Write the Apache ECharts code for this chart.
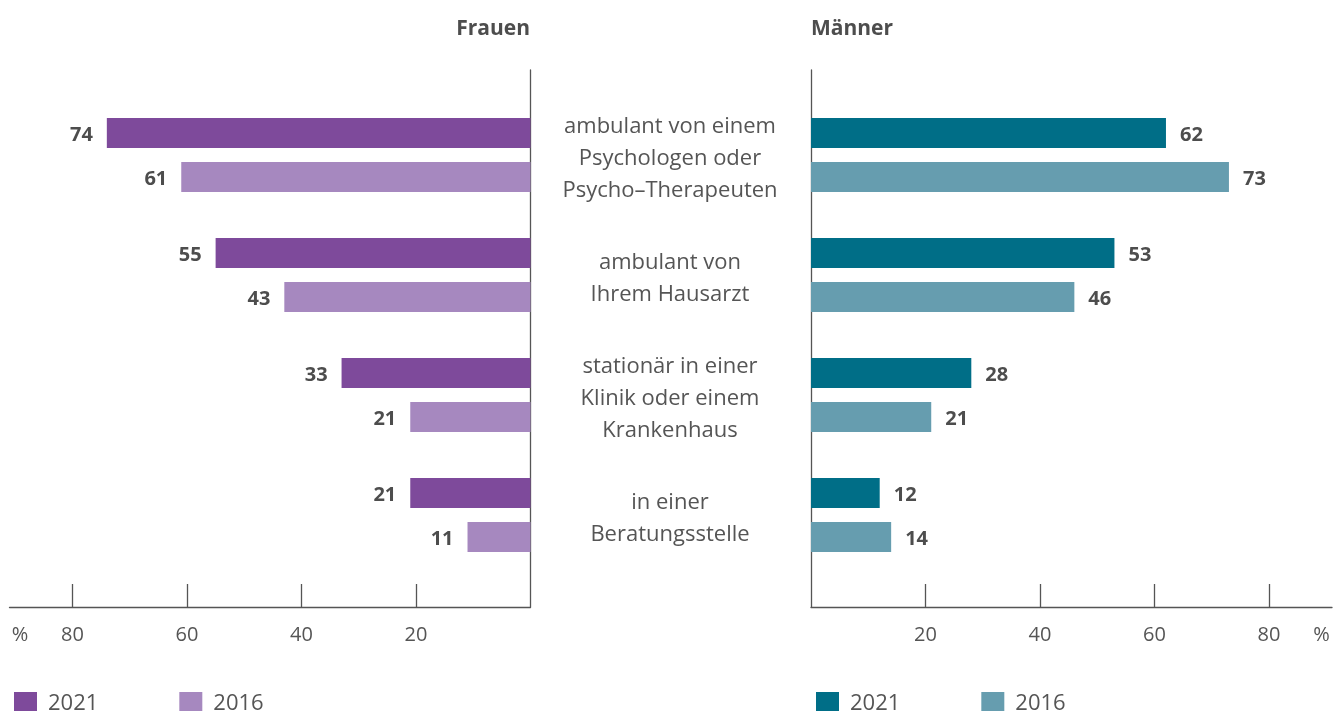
<!DOCTYPE html>
<html>
<head>
<meta charset="utf-8">
<script src="https://cdn.jsdelivr.net/npm/echarts@6/dist/echarts.min.js"></script>
<style>
  html, body { margin: 0; padding: 0; background: #fff; }
  #chart { width: 1336px; height: 711px; }
</style>
</head>
<body>
<div id="chart"></div>
<script>
// Where people sought help, in percent, by gender and survey year
const categories = [
  'ambulant von einem\nPsychologen oder\nPsycho–Therapeuten',
  'ambulant von\nIhrem Hausarzt',
  'stationär in einer\nKlinik oder einem\nKrankenhaus',
  'in einer\nBeratungsstelle'
];
const frauen2021 = [74, 55, 33, 21];
const frauen2016 = [61, 43, 21, 11];
const maenner2021 = [62, 53, 28, 12];
const maenner2016 = [73, 46, 21, 14];
const tickValues = [20, 40, 60, 80];

const FONT = 'Open Sans';
const TEXT = '#4d4d4d';
const AXIS = '#555555';
const AXIS_MAX = 91;

const chart = echarts.init(document.getElementById('chart'), null, { renderer: 'canvas' });

const valueLabel = (pos) => ({
  show: true,
  position: pos,
  distance: 14,
  offset: [0, 2],
  color: TEXT,
  fontFamily: FONT,
  fontWeight: 'bold',
  fontSize: 20
});

const barSeries = (name, data, color, xi, pos) => ({
  type: 'bar',
  name: name,
  xAxisIndex: xi,
  yAxisIndex: xi,
  data: data,
  barWidth: 30,
  barGap: '47%',
  itemStyle: { color: color },
  label: valueLabel(pos),
  silent: true
});

// frame axes: horizontal value axis with ticks + vertical baseline
const frameX = (gi, inverse) => ({
  type: 'value',
  gridIndex: gi,
  min: 0,
  max: AXIS_MAX,
  inverse: inverse,
  splitLine: { show: false },
  axisLine: { show: true, lineStyle: { color: AXIS, width: 1.3 } },
  axisTick: { show: true, inside: true, length: 23, customValues: tickValues, lineStyle: { color: AXIS, width: 1.3 } },
  axisLabel: { show: true, customValues: tickValues, margin: 18, color: AXIS, fontFamily: FONT, fontSize: 20 },
  name: '%',
  nameLocation: 'end',
  nameGap: -10.5,
  nameTextStyle: { align: 'center', verticalAlign: 'top', padding: [18, 0, 0, 0], color: AXIS, fontFamily: FONT, fontSize: 20 }
});

const frameY = (gi, pos) => ({
  type: 'value',
  gridIndex: gi,
  position: pos,
  min: 0,
  max: 1,
  axisLine: { show: true, lineStyle: { color: AXIS, width: 1.3 } },
  axisTick: { show: false },
  axisLabel: { show: false },
  splitLine: { show: false }
});

const legendFor = (left, names) => ({
  left: left, top: 687,
  itemWidth: 23, itemHeight: 23, itemGap: 81,
  icon: 'rect',
  data: names,
  formatter: (n) => n.split(' ')[1],
  textStyle: { color: AXIS, fontFamily: FONT, fontSize: 22, padding: [0, 0, 0, 6] },
  selectedMode: false
});

const option = {
  animation: false,
  backgroundColor: '#ffffff',
  textStyle: { fontFamily: FONT },
  title: [
    { text: 'Frauen', right: 1336 - 535, top: 14, textStyle: { color: TEXT, fontFamily: FONT, fontWeight: 'bold', fontSize: 21 } },
    { text: 'Männer', left: 806, top: 14, textStyle: { color: TEXT, fontFamily: FONT, fontWeight: 'bold', fontSize: 21 } }
  ],
  legend: [
    legendFor(9, ['Frauen 2021', 'Frauen 2016']),
    legendFor(811, ['Männer 2021', 'Männer 2016'])
  ],
  grid: [
    { left: 9.5, width: 521, top: 95, height: 480 },
    { left: 811, width: 521, top: 95, height: 480 },
    { left: 9.5, width: 521, top: 70, height: 537 },
    { left: 811, width: 521, top: 70, height: 537 }
  ],
  xAxis: [
    { type: 'value', gridIndex: 0, min: 0, max: AXIS_MAX, inverse: true, show: false },
    { type: 'value', gridIndex: 1, min: 0, max: AXIS_MAX, show: false },
    frameX(2, true),
    frameX(3, false)
  ],
  yAxis: [
    {
      type: 'category', gridIndex: 0, data: categories, inverse: true, position: 'right',
      axisLine: { show: false }, axisTick: { show: false }, axisLabel: { show: false }
    },
    {
      type: 'category', gridIndex: 1, data: categories, inverse: true, position: 'left',
      axisLine: { show: false }, axisTick: { show: false },
      axisLabel: {
        show: true, margin: 141, align: 'center', verticalAlign: 'middle',
        color: AXIS, fontFamily: FONT, fontSize: 22, lineHeight: 32,
        // a thin spacer line on top nudges the text block slightly downward
        formatter: (v) => '{s| }\n' + v,
        rich: { s: { fontSize: 1, lineHeight: 7 } }
      }
    },
    frameY(2, 'right'),
    frameY(3, 'left')
  ],
  series: [
    barSeries('Frauen 2021', frauen2021, '#7e4a9b', 0, 'left'),
    barSeries('Frauen 2016', frauen2016, '#a688bf', 0, 'left'),
    barSeries('Männer 2021', maenner2021, '#006e87', 1, 'right'),
    barSeries('Männer 2016', maenner2016, '#669daf', 1, 'right')
  ]
};

chart.setOption(option);
</script>
</body>
</html>
